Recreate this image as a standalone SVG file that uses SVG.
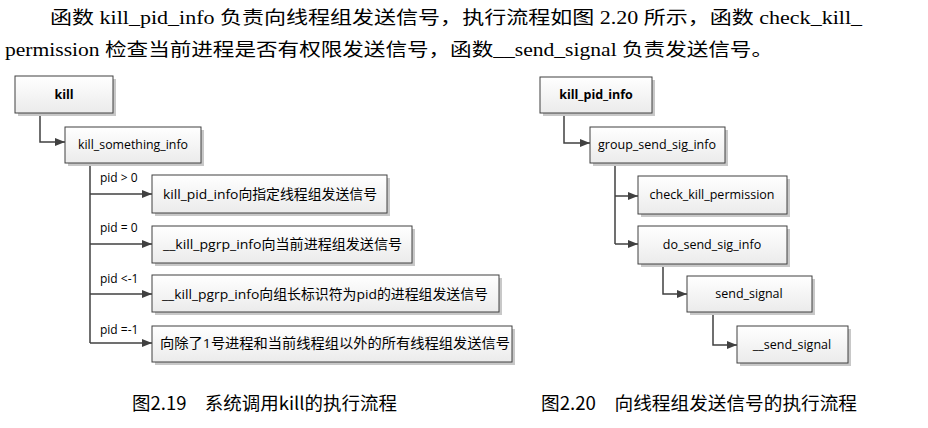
<svg xmlns="http://www.w3.org/2000/svg" width="928" height="428" viewBox="0 0 928 428">
<defs>
<linearGradient id="g" x1="0" y1="0" x2="0" y2="1">
<stop offset="0" stop-color="#ffffff"/>
<stop offset="1" stop-color="#ebebeb"/>
</linearGradient>
<marker id="arr" viewBox="0 0 10 10" refX="10" refY="5" markerWidth="10" markerHeight="10" markerUnits="userSpaceOnUse" orient="auto">
<path d="M0,1 L10,5 L0,9 z" fill="#404040"/>
</marker>
</defs>
<style>
.hd{font-family:"Liberation Serif","Noto Sans CJK SC",serif;font-size:18px;fill:#000}
.box{fill:url(#g);stroke:#404040;stroke-width:1}
.sh{fill:#c8c8c8}
.t{font-family:"Open Sans","Noto Sans CJK SC",sans-serif;font-size:12.5px;fill:#000;text-anchor:middle}
.tl{font-family:"Open Sans","Noto Sans CJK SC",sans-serif;font-size:13.5px;fill:#000}
.b{font-weight:bold}
.lb{font-family:"Open Sans","Noto Sans CJK SC",sans-serif;font-size:12px;fill:#000}
.cap{font-family:"Noto Sans CJK SC",sans-serif;font-size:18px;fill:#000}
.c{fill:none;stroke:#404040;stroke-width:1.5}
</style>
<rect width="928" height="428" fill="#fff"/>
<text class="hd" x="50" y="24" textLength="812" lengthAdjust="spacingAndGlyphs">函数 kill_pid_info 负责向线程组发送信号，执行流程如图 2.20 所示，函数 check_kill_</text>
<text class="hd" x="5" y="56" textLength="768" lengthAdjust="spacingAndGlyphs">permission 检查当前进程是否有权限发送信号，函数__send_signal 负责发送信号。</text>

<g id="connectors">
<path class="c" d="M40,113 V142 H65" marker-end="url(#arr)"/>
<path class="c" d="M90,163 V343"/>
<path class="c" d="M90,194 H152" marker-end="url(#arr)"/>
<path class="c" d="M90,244 H152" marker-end="url(#arr)"/>
<path class="c" d="M90,294 H152" marker-end="url(#arr)"/>
<path class="c" d="M90,343 H152" marker-end="url(#arr)"/>
<path class="c" d="M564,113 V143 H590" marker-end="url(#arr)"/>
<path class="c" d="M615,163 V244"/>
<path class="c" d="M615,196 H638" marker-end="url(#arr)"/>
<path class="c" d="M615,244 H638" marker-end="url(#arr)"/>
<path class="c" d="M663,264 V294 H687" marker-end="url(#arr)"/>
<path class="c" d="M713,312 V345 H737" marker-end="url(#arr)"/>
<text class="lb" x="100" y="182">pid &gt; 0</text>
<text class="lb" x="100" y="232">pid = 0</text>
<text class="lb" x="100" y="283">pid &lt;-1</text>
<text class="lb" x="100" y="334">pid =-1</text>
</g>

<g id="kill">
<rect class="sh" x="18" y="79" width="98" height="37"/>
<rect class="box" x="15" y="76" width="98" height="37"/>
<text class="t b" x="64" y="99">kill</text>
</g>
<g id="kill_something_info">
<rect class="sh" x="68" y="130" width="136" height="36"/>
<rect class="box" x="65" y="127" width="136" height="36"/>
<text class="t" x="133" y="149" textLength="110" lengthAdjust="spacingAndGlyphs">kill_something_info</text>
</g>
<g id="n_pgt0">
<rect class="sh" x="155" y="178" width="235" height="38"/>
<rect class="box" x="152" y="175" width="235" height="38"/>
<text class="tl" x="163" y="199" textLength="214" lengthAdjust="spacingAndGlyphs">kill_pid_info向指定线程组发送信号</text>
</g>
<g id="n_peq0">
<rect class="sh" x="155" y="229" width="260" height="37"/>
<rect class="box" x="152" y="226" width="260" height="37"/>
<text class="tl" x="163" y="249" textLength="239" lengthAdjust="spacingAndGlyphs">__kill_pgrp_info向当前进程组发送信号</text>
</g>
<g id="n_plt">
<rect class="sh" x="155" y="278" width="347" height="37"/>
<rect class="box" x="152" y="275" width="347" height="37"/>
<text class="tl" x="162" y="299" textLength="326" lengthAdjust="spacingAndGlyphs">__kill_pgrp_info向组长标识符为pid的进程组发送信号</text>
</g>
<g id="n_peqm1">
<rect class="sh" x="155" y="329" width="360" height="36"/>
<rect class="box" x="152" y="326" width="360" height="36"/>
<text class="tl" x="160" y="348" textLength="350" lengthAdjust="spacingAndGlyphs">向除了1号进程和当前线程组以外的所有线程组发送信号</text>
</g>

<g id="kill_pid_info">
<rect class="sh" x="543" y="80" width="112" height="36"/>
<rect class="box" x="540" y="77" width="112" height="36"/>
<text class="t b" x="596" y="99">kill_pid_info</text>
</g>
<g id="group_send_sig_info">
<rect class="sh" x="593" y="130" width="135" height="36"/>
<rect class="box" x="590" y="127" width="135" height="36"/>
<text class="t" x="657" y="149">group_send_sig_info</text>
</g>
<g id="check_kill_permission">
<rect class="sh" x="641" y="179" width="149" height="38"/>
<rect class="box" x="638" y="176" width="149" height="38"/>
<text class="t" x="712" y="199">check_kill_permission</text>
</g>
<g id="do_send_sig_info">
<rect class="sh" x="641" y="229" width="149" height="38"/>
<rect class="box" x="638" y="226" width="149" height="38"/>
<text class="t" x="712" y="249">do_send_sig_info</text>
</g>
<g id="send_signal">
<rect class="sh" x="690" y="279" width="125" height="36"/>
<rect class="box" x="687" y="276" width="125" height="36"/>
<text class="t" x="749" y="298">send_signal</text>
</g>
<g id="__send_signal">
<rect class="sh" x="740" y="329" width="111" height="37"/>
<rect class="box" x="737" y="326" width="111" height="37"/>
<text class="t" x="792" y="349">__send_signal</text>
</g>

<text class="cap" x="132" y="410" textLength="265" lengthAdjust="spacingAndGlyphs">图2.19　系统调用kill的执行流程</text>
<text class="cap" x="541" y="410" textLength="316" lengthAdjust="spacingAndGlyphs">图2.20　向线程组发送信号的执行流程</text>
</svg>
